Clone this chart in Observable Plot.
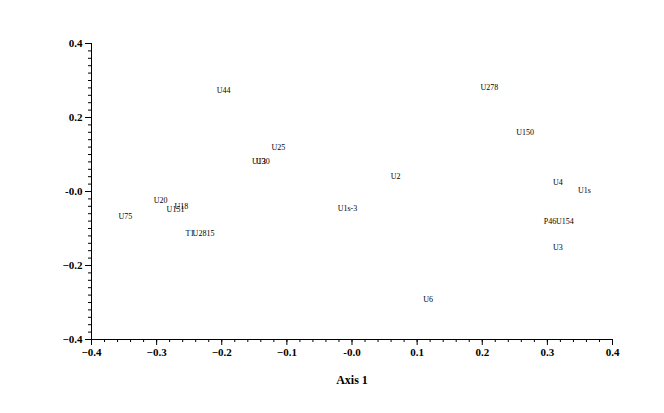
<!DOCTYPE html>
<html><head><meta charset="utf-8">
<script src="https://cdn.jsdelivr.net/npm/d3@7"></script>
<script src="https://cdn.jsdelivr.net/npm/@observablehq/plot@0.6"></script>
<style>
body{margin:0;background:#fff;}
svg{font-family:"Liberation Serif",serif;}
</style></head><body><div id="chart"></div>
<script>
const labels = ["U44","U278","U150","U25","U13","U30","U2","U1s-3","U20","U151","U18","U75","T1","U2815","U6","U4","U1s","P46","U154","U3"];
const axis1  = [-0.197,0.211,0.266,-0.113,-0.143,-0.137,0.067,-0.007,-0.294,-0.271,-0.262,-0.348,-0.249,-0.228,0.117,0.316,0.357,0.304,0.327,0.316];
const axis2  = [0.274,0.282,0.159,0.120,0.080,0.080,0.040,-0.046,-0.024,-0.048,-0.040,-0.068,-0.114,-0.112,-0.291,0.025,0.002,-0.081,-0.081,-0.151];
const majorTicks = [-0.4,-0.3,-0.2,-0.1,0,0.1,0.2,0.3,0.4];
const yMajorTicks = [-0.4,-0.2,0,0.2,0.4];
const minorTicks = d3.range(-20,21).map(i=>i/50);
const data = labels.map((l,i)=>({label:l, x:axis1[i], y:axis2[i]}));
const fmt = d => Math.abs(d) < 1e-9 ? "-0.0" : d3.format(".1f")(d);
const chart = Plot.plot({
  width:664, height:413,
  marginLeft:91, marginRight:52, marginTop:43, marginBottom:74,
  x:{domain:[-0.4,0.4]},
  y:{domain:[-0.4,0.4]},
  style:{fontFamily:"Liberation Serif", background:"#fff", color:"#000"},
  marks:[
    Plot.axisX({ticks:minorTicks, tickSize:3, tickFormat:()=>"", label:null}),
    Plot.axisX({ticks:majorTicks, tickSize:6, tickFormat:fmt, tickPadding:3, fontSize:11, fontWeight:"bold", label:"Axis 1", labelAnchor:"center", labelArrow:"none", labelOffset:44}),
    Plot.axisY({ticks:minorTicks, tickSize:3, tickFormat:()=>"", label:null}),
    Plot.axisY({ticks:yMajorTicks, tickSize:6, tickFormat:fmt, tickPadding:3, fontSize:11, fontWeight:"bold", label:null}),
    Plot.ruleY([-0.4],{stroke:"#000"}),
    Plot.ruleX([-0.4],{stroke:"#000"}),
    Plot.text(data,{x:"x", y:"y", text:"label", fontSize:8, fill:"#000", fontFamily:"Liberation Serif"})
  ]
});
d3.select(chart).selectAll("[aria-label='x-axis label'] text, [aria-label='x-axis label']").attr("font-weight","bold").attr("font-size",12);
document.getElementById("chart").append(chart);
</script></body></html>
